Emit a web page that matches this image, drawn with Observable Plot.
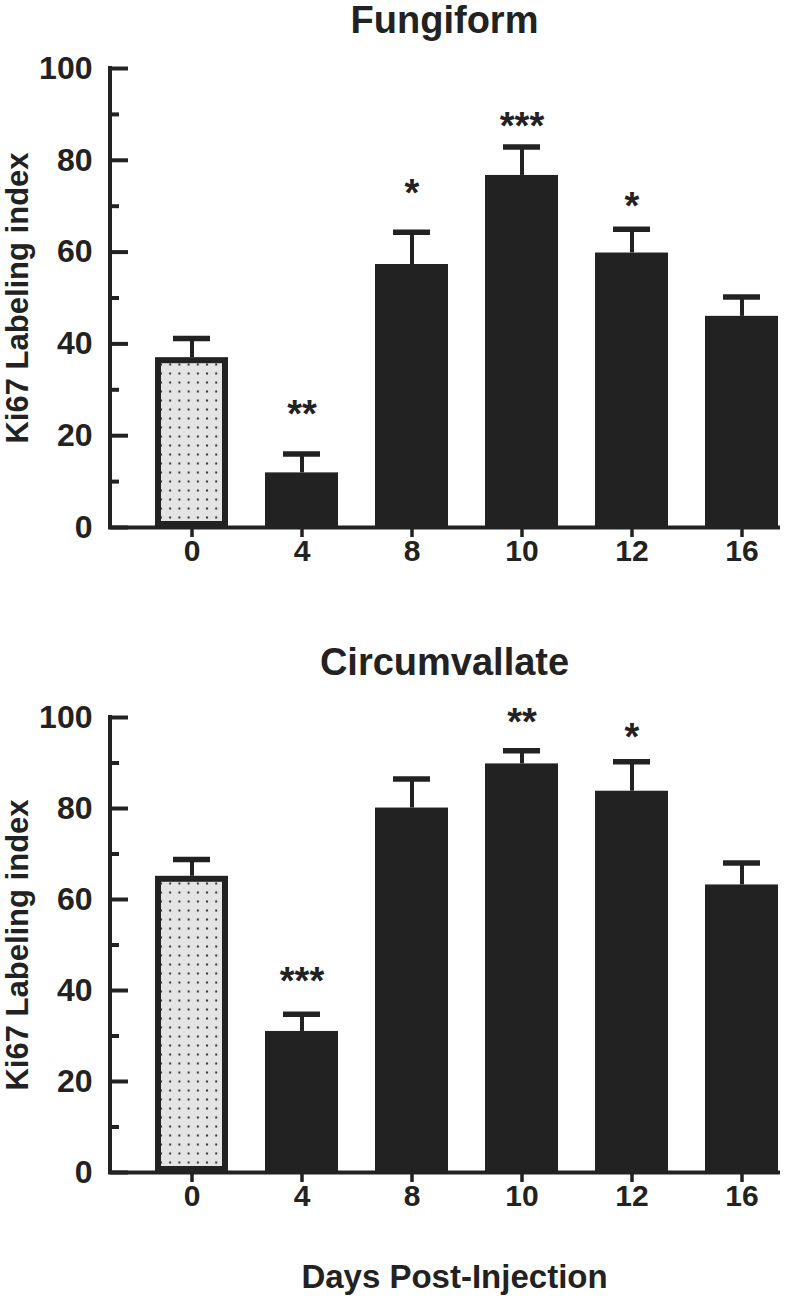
<!DOCTYPE html>
<html><head><meta charset="utf-8">
<script src="https://cdn.jsdelivr.net/npm/d3@7"></script>
<script src="https://cdn.jsdelivr.net/npm/@observablehq/plot@0.6"></script>
<style>
body{margin:0;background:#fff;}
#wrap{position:relative;width:800px;height:1301px;overflow:hidden;background:#fff;}
#top,#bottom{position:absolute;left:0;}
#top{top:0px;} #bottom{top:600px;}
</style></head><body><div id="wrap"><div id="top"></div><div id="bottom"></div></div>
<script>
// ---- data ----
const days = ["0", "4", "8", "10", "12", "16"];
const controlDay = "0";
const yMajorTicks = [0, 20, 40, 60, 80, 100];
const yMinorTicks = [10, 30, 50, 70, 90];

const fungiformMean  = [37.0, 11.9, 57.3, 76.7, 59.8, 46.0];
const fungiformUpper = [41.2, 16.0, 64.3, 82.9, 65.0, 50.2];
const fungiformStars = ["", "**", "*", "***", "*", ""];
const fungiformStarY = [null, 25.9, 73.9, 88.7, 71.2, null];

const circumMean  = [65.1, 31.0, 80.1, 89.8, 83.8, 63.2];
const circumUpper = [68.8, 34.8, 86.5, 92.7, 90.3, 68.0];
const circumStars = ["", "***", "", "**", "*", ""];
const circumStarY = [null, 43.3, null, 100.1, 96.8, null];

const titles = ["Fungiform", "Circumvallate"];
const yLabel = "Ki67 Labeling index";
const xLabel = "Days Post-Injection";

// ---- drawing ----
const ink = "#222";
const FONT = "'Liberation Sans', Arial, Helvetica, sans-serif";
const ns = "http://www.w3.org/2000/svg";

function rows(mean, upper, stars, starY) {
  return days.map((d, i) => ({day: d, mean: mean[i], upper: upper[i], stars: stars[i], starY: starY[i], control: d === controlDay}));
}

function addPattern(svg, id) {
  const defs = document.createElementNS(ns, "defs");
  const p = document.createElementNS(ns, "pattern");
  p.setAttribute("id", id);
  p.setAttribute("patternUnits", "userSpaceOnUse");
  p.setAttribute("width", "9.2");
  p.setAttribute("height", "9");
  const bg = document.createElementNS(ns, "rect");
  bg.setAttribute("width", "9.2"); bg.setAttribute("height", "9"); bg.setAttribute("fill", "#e4e4e4");
  const dot = document.createElementNS(ns, "rect");
  dot.setAttribute("x", "3.6"); dot.setAttribute("y", "3.5");
  dot.setAttribute("width", "2"); dot.setAttribute("height", "2"); dot.setAttribute("fill", "#333");
  p.appendChild(bg); p.appendChild(dot); defs.appendChild(p);
  svg.insertBefore(defs, svg.firstChild);
}

function yAxisLine(index, scales, values, dim) {
  const l = document.createElementNS(ns, "line");
  const x = dim.marginLeft;
  l.setAttribute("x1", x); l.setAttribute("x2", x);
  l.setAttribute("y1", scales.y(100)); l.setAttribute("y2", scales.y(0));
  l.setAttribute("stroke", ink); l.setAttribute("stroke-width", 4);
  l.setAttribute("stroke-linecap", "square");
  return l;
}

function panel({data, title, patternId, height, marginTop, marginBottom, titleDy, withXLabel}) {
  const marks = [
    Plot.barY(data.filter(d => !d.control), {x: "day", y: "mean", fill: ink}),
    Plot.barY(data.filter(d => d.control), {x: "day", y: "mean", fill: `url(#${patternId})`, stroke: ink, strokeWidth: 6, inset: 3}),
    Plot.ruleX(data, {x: "day", y1: "mean", y2: "upper", stroke: ink, strokeWidth: 4}),
    Plot.tickY(data, {x: "day", y: "upper", stroke: ink, strokeWidth: 5.5, inset: 18}),
    Plot.text(data.filter(d => d.stars), {x: "day", y: "starY", text: "stars", fontSize: 38, fontWeight: "bold", fill: ink, dy: 6}),
    Plot.ruleY([0], {stroke: ink, strokeWidth: 4, strokeLinecap: "square"}),
    yAxisLine,
    Plot.axisY({ticks: yMajorTicks, tickSize: -18, strokeWidth: 4, tickFormat: () => "", label: null}),
    Plot.axisY({ticks: yMinorTicks, tickSize: -9, strokeWidth: 4, tickFormat: () => "", label: null}),
    Plot.axisY({ticks: yMajorTicks, tickSize: 0, tickPadding: 18, fontSize: 32, fontWeight: "bold", label: null}),
    Plot.axisX({tickSize: 10, strokeWidth: 3.5, tickPadding: 2, fontSize: 30, fontWeight: "bold", label: null}),
    Plot.text([title], {frameAnchor: "top", lineAnchor: "top", dy: titleDy, fontSize: 38, fontWeight: "bold", fill: ink}),
    Plot.text([yLabel], {frameAnchor: "left", textAnchor: "middle", rotate: -90, dx: -92, fontSize: 31, fontWeight: "bold", fill: ink})
  ];
  if (withXLabel) {
    marks.push(Plot.text([xLabel], {frameAnchor: "bottom", lineAnchor: "top", dx: 10, dy: 92, fontSize: 33, fontWeight: "bold", fill: ink}));
  }
  const svg = Plot.plot({
    width: 800, height, marginLeft: 110, marginRight: 22, marginTop, marginBottom,
    x: {domain: days, range: [136, 797], paddingInner: 0.34, paddingOuter: 0.17, label: null},
    y: {domain: [0, 100], label: null},
    style: {fontFamily: FONT, fontWeight: "bold", color: ink, background: "#fff", overflow: "visible"},
    marks
  });
  addPattern(svg, patternId);
  return svg;
}

document.getElementById("top").appendChild(panel({
  data: rows(fungiformMean, fungiformUpper, fungiformStars, fungiformStarY),
  title: titles[0], patternId: "dotsTop", height: 600, marginTop: 68, marginBottom: 73, titleDy: -62, withXLabel: false
}));
document.getElementById("bottom").appendChild(panel({
  data: rows(circumMean, circumUpper, circumStars, circumStarY),
  title: titles[1], patternId: "dotsBottom", height: 701, marginTop: 117, marginBottom: 129, titleDy: -69, withXLabel: true
}));
</script></body></html>
